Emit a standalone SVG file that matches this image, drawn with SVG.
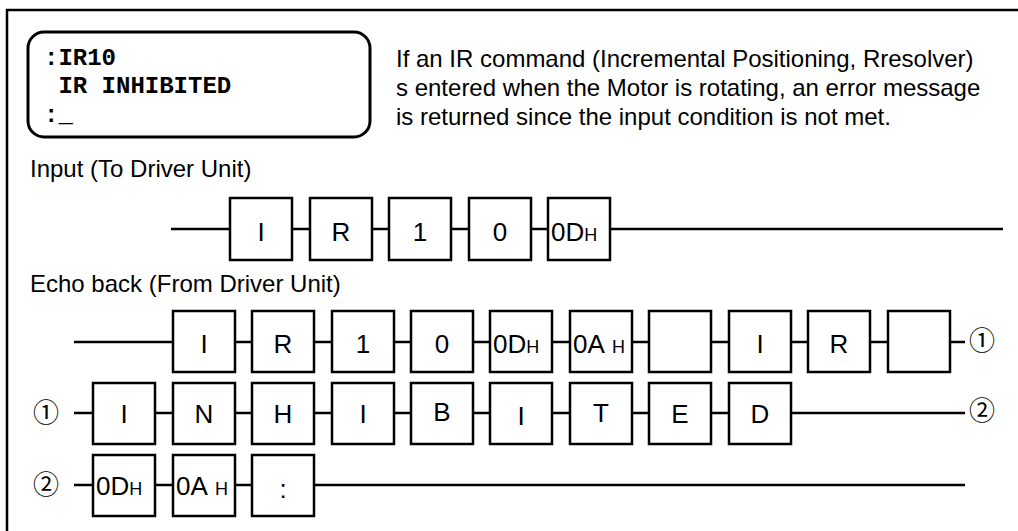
<svg xmlns="http://www.w3.org/2000/svg" width="1018" height="531" viewBox="0 0 1018 531">
<style>
.frame{fill:none;stroke:#000;stroke-width:2.5}
.term{fill:#fff;stroke:#000;stroke-width:3}
.mono{font-family:"Liberation Mono","Courier New",monospace;font-weight:bold;font-size:24px;fill:#000}
.txt{font-family:"Liberation Sans",Arial,sans-serif;font-size:24px;fill:#000}
.box{fill:#fff;stroke:#000;stroke-width:2.5}
.ch{font-family:"Liberation Sans",Arial,sans-serif;font-size:26px;fill:#000;text-anchor:middle}
.hx{font-family:"Liberation Sans",Arial,sans-serif;font-size:26px;fill:#000}
.sm{font-size:18px}
.wire{stroke:#000;stroke-width:2.5;fill:none}
.circ{font-family:"Noto Sans CJK JP","DejaVu Sans",sans-serif;font-size:26px;fill:#000;text-anchor:middle}
</style>
<rect width="1018" height="531" fill="#fff"/>
<path class="frame" d="M7,531 V10 H1018"/>

<g id="terminal">
<rect class="term" x="28" y="32" width="342" height="105" rx="16"/>
<text class="mono" x="44" y="65" xml:space="preserve">:IR10</text>
<text class="mono" x="44" y="93" xml:space="preserve"> IR INHIBITED</text>
<text class="mono" x="44" y="122" xml:space="preserve">:_</text>
</g>

<g id="description">
<text class="txt" x="396" y="67">If an IR command (Incremental Positioning, Rresolver)</text>
<text class="txt" x="396" y="96">s entered when the Motor is rotating, an error message</text>
<text class="txt" x="396" y="125">is returned since the input condition is not met.</text>
</g>

<text id="label-input" class="txt" x="30" y="177">Input (To Driver Unit)</text>
<text id="label-echo" class="txt" x="30" y="292">Echo back (From Driver Unit)</text>

<g id="connectors">
<line class="wire" x1="171" y1="229" x2="1003" y2="229"/>
<line class="wire" x1="74" y1="342" x2="965" y2="342"/>
<line class="wire" x1="74" y1="413" x2="965" y2="413"/>
<line class="wire" x1="74" y1="485" x2="965" y2="485"/>
</g>

<g id="input-row">
<g id="in-I"><rect class="box" x="230" y="198" width="62" height="62"/><text class="ch" x="261" y="241">I</text></g>
<g id="in-R"><rect class="box" x="310" y="198" width="62" height="62"/><text class="ch" x="341" y="241">R</text></g>
<g id="in-1"><rect class="box" x="389" y="198" width="62" height="62"/><text class="ch" x="420" y="241">1</text></g>
<g id="in-0"><rect class="box" x="469" y="198" width="62" height="62"/><text class="ch" x="500" y="241">0</text></g>
<g id="in-0D"><rect class="box" x="548" y="198" width="62" height="62"/><text class="hx" x="551" y="241">0D<tspan class="sm">H</tspan></text></g>
</g>

<g id="echo-row1">
<g id="e1-I"><rect class="box" x="173" y="311" width="62" height="61"/><text class="ch" x="204" y="353">I</text></g>
<g id="e1-R"><rect class="box" x="252" y="311" width="62" height="61"/><text class="ch" x="283" y="353">R</text></g>
<g id="e1-1"><rect class="box" x="332" y="311" width="62" height="61"/><text class="ch" x="363" y="353">1</text></g>
<g id="e1-0"><rect class="box" x="411" y="311" width="62" height="61"/><text class="ch" x="442" y="353">0</text></g>
<g id="e1-0D"><rect class="box" x="490" y="311" width="62" height="61"/><text class="hx" x="493" y="353">0D<tspan class="sm">H</tspan></text></g>
<g id="e1-0A"><rect class="box" x="570" y="311" width="62" height="61"/><text class="hx" x="573" y="353">0A<tspan class="sm" x="612">H</tspan></text></g>
<g id="e1-sp1"><rect class="box" x="649" y="311" width="62" height="61"/></g>
<g id="e1-I2"><rect class="box" x="729" y="311" width="62" height="61"/><text class="ch" x="760" y="353">I</text></g>
<g id="e1-R2"><rect class="box" x="808" y="311" width="62" height="61"/><text class="ch" x="839" y="353">R</text></g>
<g id="e1-sp2"><rect class="box" x="888" y="311" width="62" height="61"/></g>
<text class="circ" x="982" y="350">①</text>
</g>

<g id="echo-row2">
<text class="circ" x="46" y="422">①</text>
<g id="e2-I"><rect class="box" x="93" y="383" width="62" height="61"/><text class="ch" x="124" y="423">I</text></g>
<g id="e2-N"><rect class="box" x="173" y="383" width="62" height="61"/><text class="ch" x="204" y="423">N</text></g>
<g id="e2-H"><rect class="box" x="252" y="383" width="62" height="61"/><text class="ch" x="283" y="423">H</text></g>
<g id="e2-I2"><rect class="box" x="332" y="383" width="62" height="61"/><text class="ch" x="363" y="423">I</text></g>
<g id="e2-B"><rect class="box" x="411" y="383" width="62" height="61"/><text class="ch" x="442" y="421">B</text></g>
<g id="e2-I3"><rect class="box" x="490" y="383" width="62" height="61"/><text class="ch" x="521" y="425">I</text></g>
<g id="e2-T"><rect class="box" x="570" y="383" width="62" height="61"/><text class="ch" x="601" y="422">T</text></g>
<g id="e2-E"><rect class="box" x="649" y="383" width="62" height="61"/><text class="ch" x="680" y="423">E</text></g>
<g id="e2-D"><rect class="box" x="729" y="383" width="62" height="61"/><text class="ch" x="760" y="423">D</text></g>
<text class="circ" x="982" y="420">②</text>
</g>

<g id="echo-row3">
<text class="circ" x="46" y="494">②</text>
<g id="e3-0D"><rect class="box" x="93" y="455" width="62" height="61"/><text class="hx" x="96" y="495">0D<tspan class="sm">H</tspan></text></g>
<g id="e3-0A"><rect class="box" x="173" y="455" width="62" height="61"/><text class="hx" x="176" y="495">0A<tspan class="sm" x="215">H</tspan></text></g>
<g id="e3-colon"><rect class="box" x="252" y="455" width="62" height="61"/><text class="ch" x="283" y="498">:</text></g>
</g>
</svg>
